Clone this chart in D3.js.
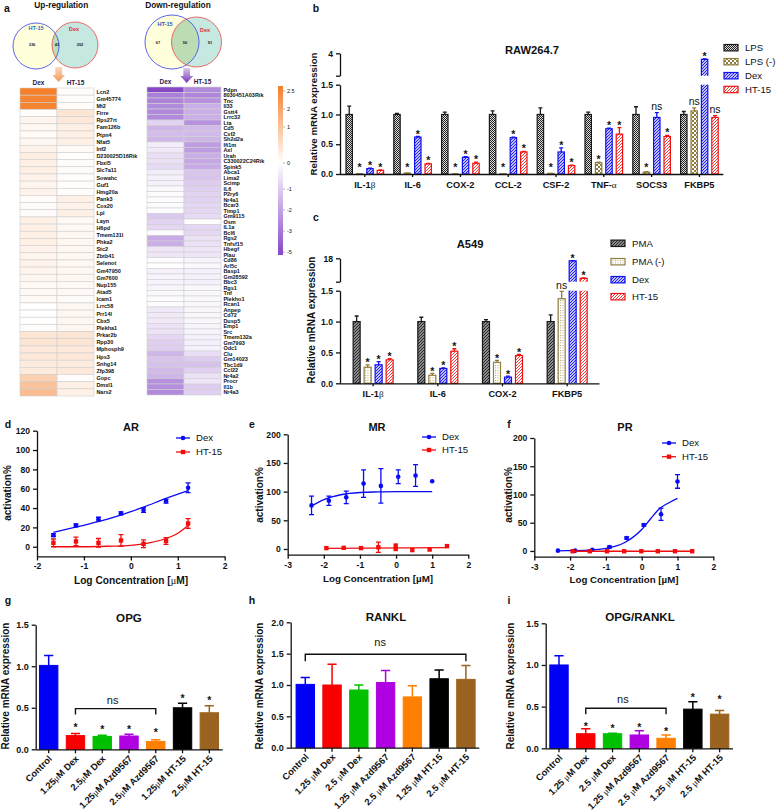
<!DOCTYPE html>
<html><head><meta charset="utf-8">
<script src="https://cdn.jsdelivr.net/npm/d3@7"></script>
<style>
html,body{margin:0;padding:0;background:#fff}
svg{display:block;font-family:"Liberation Sans",Arial,sans-serif}
text{fill:#111}
.axis text{font-weight:bold;font-size:8.6px;fill:#111}
.axis path,.axis line{stroke:#111;stroke-width:1.3}
</style></head><body>
<svg id="c" width="778" height="812"></svg>
<script>
// ---- panel a data ----
const upGenes=["Lcn2","Gm45774","Mt2","Firre","Rps27rt","Fam126b","Ptpn4","Nfat5","Inf2","D230025D16Rik","Fbxl5","Slc7a11","Sowahc","Guf1","Hmg20a","Pank3","Cox20","Lpl","Layn","H6pd","Tmem131l","Phka2","Stc2","Zbtb41","Selenot","Gm47950","Gm7600","Nup155","Atad5","Icam1","Lrrc58","Prr14l","Cbx5","Plekha1","Prkar2b","Rpp30","Mphosph9","Hps3","Snhg14","Zfp398","Gopc","Dmxl1","Nars2"];
const upDex=[2.5,2.4,2.4,.02,.2,.15,.1,.15,.25,.35,.3,.3,.25,.2,.25,.05,.08,.05,.3,.3,.3,.3,.25,.2,.25,.2,.2,.12,.12,.1,0,0,.02,.03,.5,.5,.45,.45,.4,.4,.9,1.2,1.3];
const upHT=[.05,.05,.06,.5,.45,.3,.3,.3,.1,.06,.08,.06,.03,.02,.04,.3,.25,.3,.1,.12,.15,.15,.15,.15,.15,.15,.15,.12,.12,.08,.15,.15,.15,.18,.5,.5,.45,.45,.4,.45,.05,.3,.3];
const downGenes=["Pdpn","8030451A03Rik","Tnc","Il33","Gstt4","Lrrc32","Lta","Cd5","Csf2","Sh2d2a","Ifi1m","Axl","Urah","C330022C24Rik","Spink5","Abca1","Lima2","Scimp","IL6","P2ry6","Nr4a1","Bcar3","Timp1","Gm9115","Osm","IL1a","Bcl6","Rgs2","Tnfsf15","Hbegf","Plau","Cd86","Arl5c","Basp1","Gm28592","Bbc3","Rgs1","Tnf","Plekho1","Rcan1","Anpep","Cd72","Dusp5","Emp1","Src","Tmem132a","Gm7993","Odc1","Clu","Gm14023","Tbc1d9","Ccl22","Nr4a2","Procr","Il1b","Nr4a3"];
const downDex=[-5,-3.5,-3.4,-3.2,-3.2,-3.2,-1.2,-2,-1.8,-2,-.5,-.6,-.9,-.8,-1,-.5,-.4,-.4,-.2,-.1,-.1,-.15,-.08,-1.5,-1.2,-1.1,-.1,-2.3,-2.2,-.7,-.7,-.1,0,-.4,-.3,-.35,-.3,-.2,-.1,-.1,-.6,-.6,-.6,-.8,-.8,-1.1,-1.3,-1.3,-2,-1.6,-1.7,-1.9,-2,-3,-3.1,-3.2];
const downHT=[-3.2,-3.3,-3,-2.2,-2.2,-2.2,-3,-1.9,-1.9,-2,-2.7,-2.7,-2.2,-2.4,-2.3,-1.6,-1.6,-1.4,-1.3,-1.2,-1.2,-1.1,-1.1,-1,-.05,-1.1,-1.1,-.8,-.8,-.7,-.7,-.3,-.2,-.4,-.4,-.4,-.2,-.2,-.2,-.2,-.25,-.25,-.25,-.3,-.3,-.4,-.4,-.4,-.9,-1.4,-1.7,-1.3,-.8,-.7,-1.4,-1.3];
const colorTicks=[2.5,2,1,0,-1,-2,-3,-5];
const colorTickLabels=["2.5","2","1","0","-1","-2","-3","-5"];
// ---- panel b data ----
const rawCats=["IL-1β","IL-6","COX-2","CCL-2","CSF-2","TNF-α","SOCS3","FKBP5"];
const rawSeries=["LPS","LPS (-)","Dex","HT-15"];
const rawLPS=[1,1,1,1,1,1,1,1];
const rawLPSerr=[1.14,1.02,1.04,1.06,1.11,1.04,1.13,1.05];
const rawNeg=[.005,.015,.003,.005,.01,.19,.03,1.06];
const rawNegErr=[.005,.015,.003,.005,.01,.2,.04,1.11];
const rawDex=[.09,.62,.28,.61,.37,.76,.95,3.45];
const rawDexErr=[.1,.63,.29,.62,.44,.77,1.03,3.5];
const rawHT=[.06,.17,.18,.37,.14,.67,.63,.95];
const rawHTerr=[.07,.18,.2,.38,.15,.78,.65,.98];
const rawMarks=[["","","","","","","",""],["*","*","*","*","*","*","*","ns"],["*","*","*","*","*","*","ns","*"],["*","*","*","*","*","*","*","ns"]];
// ---- panel c data ----
const aCats=["IL-1β","IL-6","COX-2","FKBP5"];
const aSeries=["PMA","PMA (-)","Dex","HT-15"];
const aPMA=[1,1,1,1];
const aPMAerr=[1.09,1.07,1.03,1.11];
const aNeg=[.26,.13,.34,1.37];
const aNegErr=[.3,.16,.37,1.49];
const aDex=[.3,.24,.1,16.2];
const aDexErr=[.35,.25,.115,16.4];
const aHT=[.38,.52,.45,4.3];
const aHTerr=[.4,.56,.47,4.6];
const aMarks=[["","","",""],["*","*","*","ns"],["*","*","*","*"],["*","*","*","*"]];
// ---- panels d-f data ----
const arX=[-1.65,-1.17,-.69,-.21,.27,.75,1.22];
const arDex=[12,22,28.5,34.5,38,47,61];
const arDexErr=[1.5,1.5,2,1.5,2.5,2,5];
const arHT=[4,5.5,4,6.5,3,6,24];
const arHTerr=[4,4.5,4.5,6,4,3.5,5];
const arDexFitX=[-1.65,-1.2,-.7,-.2,.27,.75,1.22];
const arDexFit=[15,20,26,33,41,50,58];
const arHTfitX=[-1.65,-1,-.5,0,.27,.75,1,1.22];
const arHTfit=[0,0,.5,1.5,3,8.5,14,22];
const mrDexX=[-2.34,-1.86,-1.38,-.9,-.42,.06,.54,1];
const mrDex=[76,84,90,114,110,126,128,118];
const mrDexErr=[16,8,11,24,30,12,19,0];
const mrHTx=[-1.93,-1.45,-.97,-.49,-.01,-.01,.45,.93,1.41];
const mrHT=[1.5,2,1.5,3,6,0,-2,-1,5];
const mrHTerr=[0,0,0,9,0,0,0,0,0];
const mrDexFitX=[-2.34,-2,-1.5,-1,-.5,0,.5,1];
const mrDexFit=[75,86,95,98.5,99.5,100,100,100];
const mrHTfitX=[-1.93,1.41];
const mrHTfit=[1,2.5];
const prDexX=[-2.34,-1.86,-1.38,-.9,-.42,.06,.54,1];
const prDex=[.5,.5,2,7,23,46,65,123];
const prDexErr=[0,0,0,1.5,2,2,11,12];
const prHTx=[-1.93,-1.45,-.97,-.49,-.01,.45,.93,1.41];
const prHT=[-.5,-.5,-.5,-.5,-.5,-.5,-.5,-.5];
const prHTerr=[0,0,0,0,0,0,0,0];
const prDexFitX=[-2.34,-2,-1.5,-1,-.5,0,.25,.5,.75,1];
const prDexFit=[.3,.6,1.5,4.5,14,38,57,75,85,93];
const prHTfitX=[-1.93,1.41];
const prHTfit=[-.5,-.5];
// ---- panels g-i data ----
const treatG=["Control","1.25μM Dex","2.5μM Dex","1.25μM Azd9567","2.5μM Azd9567","1.25μM HT-15","2.5μM HT-15"];
const treatH=["Control","1.25 μM Dex","2.5 μM Dex","1.25 μM Azd9567","2.5 μM Azd9567","1.25 μM HT-15","2.5 μM HT-15"];
const treatColors=["#0000f5","#f80000","#00c000","#ae00e0","#ff8000","#000000","#9a6420"];
const opg=[1.01,.165,.155,.16,.095,.5,.44];
const opgErr=[1.13,.19,.17,.18,.115,.555,.525];
const opgStars=[null,.292,.264,.272,.228,.64,.62];
const rankl=[1.01,1,.92,1.04,.81,1.1,1.09];
const ranklErr=[1.12,1.33,1,1.23,.99,1.24,1.31];
const ratio=[1,.175,.175,.16,.12,.47,.41];
const ratioErr=[1.11,.235,.18,.21,.16,.56,.455];
const ratioStars=[null,.288,.268,.276,.228,.64,.616];

const svg=d3.select("#c");
const defs=svg.append("defs");
function pat(id,w,h,bg,draw){
  const p=defs.append("pattern").attr("id",id).attr("patternUnits","userSpaceOnUse").attr("width",w).attr("height",h);
  p.append("rect").attr("width",w).attr("height",h).attr("fill",bg);
  draw(p);
}
const diag=(c,sw)=>p=>p.append("path").attr("d","M-1,1L1,-1M0,3L3,0M2,4L4,2").attr("stroke",c).attr("stroke-width",sw);
pat("pLPS",2,2,"#ddd",p=>{p.append("rect").attr("width",1).attr("height",1).attr("fill","#222");p.append("rect").attr("x",1).attr("y",1).attr("width",1).attr("height",1).attr("fill","#222");});
pat("pNeg",4,4,"#fff",p=>{p.append("rect").attr("width",2).attr("height",2).attr("fill","#8f7d3e");p.append("rect").attr("x",2).attr("y",2).attr("width",2).attr("height",2).attr("fill","#8f7d3e");});
pat("pDex",3,3,"#fff",diag("#1818f0",1.1));
pat("pHT",3,3,"#fff",diag("#f02828",.9));
pat("pPMA",3,3,"#bbb",p=>{p.append("path").attr("d","M-1,1L1,-1M0,3L3,0M2,4L4,2").attr("stroke","#222").attr("stroke-width",1.2);});
pat("pNegC",2.5,2.5,"#fff",p=>p.append("rect").attr("width",.9).attr("height",.9).attr("fill","#a89560"));
const rawPal=[{f:"url(#pLPS)",s:"#1a1a1a"},{f:"url(#pNeg)",s:"#8f7d3e"},{f:"url(#pDex)",s:"#1010f0"},{f:"url(#pHT)",s:"#f01010"}];
const aPal=[{f:"url(#pPMA)",s:"#1a1a1a"},{f:"url(#pNegC)",s:"#8f7d3e"},{f:"url(#pDex)",s:"#1010f0"},{f:"url(#pHT)",s:"#f01010"}];

function rich(t,str){ // Greek glyphs drawn in a serif face like the reference
  t.text(null);
  str.split(/([βαμ])/).filter(s=>s).forEach(s=>{
    const sp=t.append("tspan").text(s);
    if(/[βαμ]/.test(s)) sp.attr("font-family","Liberation Serif").attr("font-weight","normal");
  });
}
function label(x,y,s,o={}){
  const t=svg.append("text").attr("x",x).attr("y",y).attr("text-anchor",o.a||"middle")
    .attr("font-size",o.fs||10).attr("font-weight",o.w||"bold").text(s);
  if(o.c)t.style("fill",o.c);
  return t;
}
function vlabel(x,y,s,fs){
  svg.append("text").attr("transform",`translate(${x},${y}) rotate(-90)`).attr("text-anchor","middle")
   .attr("font-size",fs).attr("font-weight","bold").text(s);
}
function star(x,y,fs=11){label(x,y+fs*.58,"*",{fs});}

// panel letters
[["a",7,12],["b",316,12],["c",316,221],["d",8,428],["e",252,428],["f",509,428],["g",8,604],["h",252,604],["i",509,604]]
 .forEach(d=>label(d[1],d[2],d[0],{fs:10.5}));

// ---- Panel a ----
const heatColor=d3.scaleLinear().domain([-5,0,2.5]).range(["#8748c8","#ffffff","#f57f2a"]);
function venn(lx,ly,lr,rx,ry,rr,clip,lab){
  const g=svg.append("g");
  g.append("circle").attr("cx",lx).attr("cy",ly).attr("r",lr).attr("fill","#ffffdc");
  g.append("circle").attr("cx",rx).attr("cy",ry).attr("r",rr).attr("fill","#c5e9e1");
  defs.append("clipPath").attr("id",clip).append("circle").attr("cx",lx).attr("cy",ly).attr("r",lr);
  g.append("circle").attr("cx",rx).attr("cy",ry).attr("r",rr).attr("fill","#bcdcb4").attr("clip-path",`url(#${clip})`);
  g.append("circle").attr("cx",lx).attr("cy",ly).attr("r",lr).attr("fill","none").attr("stroke","#4a55e8").attr("stroke-width",.9);
  g.append("circle").attr("cx",rx).attr("cy",ry).attr("r",rr).attr("fill","none").attr("stroke","#e85a5a").attr("stroke-width",.9);
  lab.forEach(d=>label(d[0],d[1],d[2],{fs:d[3],c:d[4]}));
}
venn(36,46,23,75,45,23,"cv1",[[36,30,"HT-15",5.6,"#2a6fb8"],[74,31,"Dex",5.6,"#e03040"],[32,46,"336",4,"#222"],[57,46,"43",4,"#222"],[80,46,"202",4,"#222"]]);
venn(172,42,27,196.5,42,25,"cv2",[[165,26,"HT-15",5.6,"#2a55b8"],[205,32,"Dex",5.6,"#e03040"],[158,44,"67",4,"#222"],[185,44,"56",4,"#222"],[210,44,"91",4,"#222"]]);
label(61.3,8,"Up-regulation",{fs:8.3});
label(178,8,"Down-regulation",{fs:8.3});
function arrow(x,y,id,c1,c2){
  const gr=defs.append("linearGradient").attr("id",id).attr("x1",0).attr("y1",0).attr("x2",0).attr("y2",1);
  gr.append("stop").attr("offset",0).attr("stop-color",c1);
  gr.append("stop").attr("offset",1).attr("stop-color",c2);
  svg.append("path").attr("d",`M${x-3.4},${y}h6.8v8h3l-6.4,7l-6.4,-7h3z`).attr("fill",`url(#${id})`);
}
arrow(58.7,67,"ga1","#fbd8bc","#f39a58");
arrow(186.7,68,"ga2","#d8c8ea","#7a35b8");
function heat(x0,top,bottom,genes,a,b,colW){
  const xs=d3.scaleBand().domain(["Dex","HT-15"]).range([x0,x0+2*colW]);
  const ys=d3.scaleBand().domain(genes).range([top,bottom]);
  const g=svg.append("g");
  [["Dex",a],["HT-15",b]].forEach(([k,v])=>{
    g.selectAll(null).data(genes).enter().append("rect")
     .attr("x",xs(k)).attr("width",xs.bandwidth()).attr("y",d=>ys(d)).attr("height",ys.bandwidth())
     .attr("fill",(d,i)=>heatColor(v[i])).attr("stroke","#cfcfcf").attr("stroke-width",.6);
    label(xs(k)+xs.bandwidth()/2,top-3,k,{fs:6.5,c:"#2a1a50"});
  });
  g.selectAll(null).data(genes).enter().append("text").attr("x",x0+2*colW+2.4).attr("y",d=>ys(d)+ys.bandwidth()/2+2)
   .attr("font-size",5.5).attr("font-weight","bold").text(d=>d);
}
heat(20,88,396,upGenes,upDex,upHT,37);
heat(147,87,395,downGenes,downDex,downHT,37);
// colour bar
const cbY=d3.scaleLinear().domain(colorTicks).range([91,109,127,163,189,210,231,252]);
const cbTop=cbY(2.5)-5, cbBot=cbY(-5)+3;
const gradC=defs.append("linearGradient").attr("id","cb").attr("x1",0).attr("y1",0).attr("x2",0).attr("y2",1);
[[2.5,cbTop],[0,cbY(0)],[-5,cbBot]].forEach(([v,y])=>gradC.append("stop").attr("offset",(y-cbTop)/(cbBot-cbTop)).attr("stop-color",heatColor(v)));
svg.append("rect").attr("x",278).attr("y",cbTop).attr("width",5).attr("height",cbBot-cbTop).attr("fill","url(#cb)");
colorTicks.forEach((v,i)=>{
  svg.append("line").attr("x1",283).attr("x2",285).attr("y1",cbY(v)).attr("y2",cbY(v)).attr("stroke","#666").attr("stroke-width",.5);
  label(287,cbY(v)+2,colorTickLabels[i],{fs:5.5,a:"start",w:"normal"});
});

// ---- Panels b, c ----
function groupedBars(o){
  const x=d3.scaleBand().domain(o.cats).range(o.xr);
  const ix=d3.scaleBand().domain(o.series).range([-o.step*2,o.step*2]);
  const yL=d3.scaleLinear().domain([0,1.5]).range([o.y0,o.y15]);
  const yU=d3.scaleLinear().domain(o.upDom).range([o.yB,o.yT]);
  const yOf=v=>v>1.5?yU(v):yL(v);
  o.vals.forEach((vals,si)=>{
    const s=o.series[si], pal=o.pal[si];
    vals.forEach((v,ci)=>{
      const cx=x(o.cats[ci])+x.bandwidth()/2+ix(s)+ix.bandwidth()/2;
      const left=cx-o.bw/2;
      const top=Math.min(yL(v),yL(0));
      if(v>1.5){
        svg.append("rect").attr("x",left).attr("y",o.y15).attr("width",o.bw).attr("height",o.y0-o.y15).attr("fill",pal.f);
        svg.append("path").attr("d",`M${left},${o.y15}V${o.y0}M${left+o.bw},${o.y15}V${o.y0}`).attr("stroke",pal.s).attr("stroke-width",1.2).attr("fill","none");
        svg.append("rect").attr("x",left).attr("y",yU(v)).attr("width",o.bw).attr("height",o.yB-yU(v)).attr("fill",pal.f);
        svg.append("path").attr("d",`M${left},${o.yB}V${yU(v)}H${left+o.bw}V${o.yB}`).attr("stroke",pal.s).attr("stroke-width",1.2).attr("fill","none");
      }else{
        svg.append("rect").attr("x",left).attr("y",top).attr("width",o.bw).attr("height",o.y0-top).attr("fill",pal.f).attr("stroke",pal.s).attr("stroke-width",1.2);
      }
      const e=o.errs[si][ci], ey=yOf(e), by=yOf(v);
      svg.append("path").attr("d",`M${cx},${by}V${ey}M${cx-2},${ey}H${cx+2}`).attr("stroke",pal.s).attr("stroke-width",1.3).attr("fill","none");
      const m=o.marks[si][ci];
      if(m==="*") star(cx,Math.min(ey,o.y0-4)-o.gap,10.5);
      else if(m==="ns"){
        const ny=o.nsAt?o.nsAt:ey-6;
        label(cx,ny+3,"ns",{fs:10.5,w:o.nsW||"normal"});
      }
    });
  });
  // axes
  const ga=svg.append("g").attr("class","axis").attr("transform",`translate(${o.ax},0)`);
  ga.call(d3.axisLeft(yL).tickValues([0,.5,1,1.5]).tickFormat(d3.format(".1f")).tickSize(4).tickSizeOuter(0));
  const gu=svg.append("g").attr("class","axis").attr("transform",`translate(${o.ax},0)`);
  gu.call(d3.axisLeft(yU).tickValues([o.upDom[0],o.upDom[1]]).tickFormat(d=>d===o.upDom[1]?d:"").tickSize(4).tickSizeOuter(0));
  const gx=svg.append("g").attr("class","axis").attr("transform",`translate(0,${o.y0})`);
  gx.call(d3.axisBottom(x).tickSize(3).tickSizeOuter(0));
  gx.select(".domain").attr("d",`M${o.ax},0.5H${o.xr[1]}`);
  gx.selectAll("text").attr("dy",null).attr("y",14).style("font-size","9.2px").each(function(d){rich(d3.select(this),d);});
  label(o.tx,o.ty,o.title,{fs:11.2});
  vlabel(o.ylx,o.yly,"Relative mRNA expression",o.ylfs);
  o.series.forEach((s,i)=>{
    const y=o.legY[i];
    svg.append("rect").attr("x",o.legX).attr("y",y-3.2).attr("width",14).attr("height",6.4).attr("fill",o.pal[i].f).attr("stroke",o.pal[i].s).attr("stroke-width",1.2);
    label(o.legX+21,y+3.4,s,{fs:9.6,a:"start",w:"normal"});
  });
}
groupedBars({cats:rawCats,series:rawSeries,vals:[rawLPS,rawNeg,rawDex,rawHT],errs:[rawLPSerr,rawNegErr,rawDexErr,rawHTerr],marks:rawMarks,pal:rawPal,
  xr:[340.9,723.3],step:10.4,bw:6.4,ax:340,y0:174,y15:84.7,yB:75.7,yT:53.3,upDom:[2,4],gap:5,nsW:"normal",
  tx:532,ty:54,title:"RAW264.7",ylx:317,yly:114,ylfs:9.7,legX:724,legY:[47.7,61.7,75.7,89.5]});
groupedBars({cats:aCats,series:aSeries,vals:[aPMA,aNeg,aDex,aHT],errs:[aPMAerr,aNegErr,aDexErr,aHTerr],marks:aMarks,pal:aPal,
  xr:[340.8,599.5],step:11,bw:7,ax:340,y0:383.3,y15:290.7,yB:281.7,yT:258.3,upDom:[2,18],gap:4.5,nsAt:286,
  tx:470,ty:247.5,title:"A549",ylx:314.5,yly:320,ylfs:10,legX:611,legY:[243.3,261.7,279.7,296.7]});

// ---- Panels d, e, f ----
function dose(o){
  const x=d3.scaleLinear().domain(o.xd).range(o.xr);
  const y=d3.scaleLinear().domain(o.yd).range(o.yr);
  const ln=d3.line().x(d=>x(d[0])).y(d=>y(d[1])).curve(d3.curveMonotoneX);
  const BL="#0a0af5",RD="#f20d0d";
  function ser(px,py,pe,fx,fy,c,sq){
    svg.append("path").attr("d",ln(fx.map((v,i)=>[v,fy[i]]))).attr("fill","none").attr("stroke",c).attr("stroke-width",1.3);
    px.forEach((v,i)=>{
      const cx=x(v),cy=y(py[i]);
      if(pe[i]>0){
        const a=y(py[i]-pe[i]),b=y(py[i]+pe[i]);
        svg.append("path").attr("d",`M${cx},${a}V${b}M${cx-2.5},${a}h5M${cx-2.5},${b}h5`).attr("stroke",c).attr("stroke-width",1.3);
      }
      if(sq) svg.append("rect").attr("x",cx-2.2).attr("y",cy-2.2).attr("width",4.4).attr("height",4.4).attr("fill",c);
      else svg.append("circle").attr("cx",cx).attr("cy",cy).attr("r",2.3).attr("fill",c);
    });
  }
  ser(o.dx,o.dy,o.de,o.dfx,o.dfy,BL,false);
  ser(o.hx,o.hy,o.he,o.hfx,o.hfy,RD,true);
  const gy=svg.append("g").attr("class","axis").attr("transform",`translate(${o.xr[0]},0)`);
  gy.call(d3.axisLeft(y).tickValues(o.yt).tickSize(4).tickSizeOuter(0));
  const gx=svg.append("g").attr("class","axis").attr("transform",`translate(0,${o.yr[0]})`);
  gx.call(d3.axisBottom(x).tickValues(o.xt).tickFormat(d3.format("d")).tickSize(4).tickSizeOuter(0));
  gx.selectAll("text").text(d=>d<0?"-"+Math.abs(d):d);
  label(o.tx,431,o.title,{fs:11});
  rich(label(o.xlx,o.xly,"",{fs:o.xlfs}),o.xl);
  vlabel(o.ylx,o.yly,"activation%",10);
  [["Dex",BL,false,o.lg[0]],["HT-15",RD,true,o.lg[1]]].forEach(([s,c,sq,ly])=>{
    svg.append("line").attr("x1",o.lgx).attr("x2",o.lgx+14).attr("y1",ly).attr("y2",ly).attr("stroke",c).attr("stroke-width",1.3);
    if(sq) svg.append("rect").attr("x",o.lgx+4.8).attr("y",ly-2.2).attr("width",4.4).attr("height",4.4).attr("fill",c);
    else svg.append("circle").attr("cx",o.lgx+7).attr("cy",ly).attr("r",2.3).attr("fill",c);
    label(o.lgx+20,ly+3.3,s,{fs:9.6,a:"start",w:"normal"});
  });
}
dose({xd:[-2,2],xr:[37,224.7],yd:[-10,120],yr:[556.4,430.7],yt:[0,20,40,60,80,100,120],xt:[-2,-1,0,1,2],
  dx:arX,dy:arDex,de:arDexErr,dfx:arDexFitX,dfy:arDexFit,hx:arX,hy:arHT,he:arHTerr,hfx:arHTfitX,hfy:arHTfit,
  tx:131,title:"AR",xlx:131,xly:584,xlfs:10.2,xl:"Log Concentration [μM]",ylx:10.5,yly:493,lg:[438,452],lgx:176});
dose({xd:[-3,2],xr:[287.7,468.3],yd:[-10,200],yr:[554.7,434.3],yt:[0,50,100,150,200],xt:[-3,-2,-1,0,1,2],
  dx:mrDexX,dy:mrDex,de:mrDexErr,dfx:mrDexFitX,dfy:mrDexFit,hx:mrHTx,hy:mrHT,he:mrHTerr,hfx:mrHTfitX,hfy:mrHTfit,
  tx:377,title:"MR",xlx:378,xly:581.5,xlfs:9.8,xl:"Log Concentration [µM]",ylx:262.5,yly:495,lg:[437,450],lgx:422});
dose({xd:[-3,2],xr:[534.3,713.3],yd:[-10,200],yr:[556.6,438],yt:[0,50,100,150,200],xt:[-3,-2,-1,0,1,2],
  dx:prDexX,dy:prDex,de:prDexErr,dfx:prDexFitX,dfy:prDexFit,hx:prHTx,hy:prHT,he:prHTerr,hfx:prHTfitX,hfy:prHTfit,
  tx:625,title:"PR",xlx:624,xly:582.5,xlfs:9.7,xl:"Log Concentration [µM]",ylx:512,yly:495,lg:[443,456.7],lgx:662});

// ---- Panels g, h, i ----
function treat(o){
  const x=d3.scaleBand().domain(o.cats).range(o.xr);
  const y=d3.scaleLinear().domain([0,o.max]).range([o.y0,o.yT]);
  const bw=18.4;
  o.cats.forEach((c,i)=>{
    const cx=x(c)+x.bandwidth()/2, col=treatColors[i];
    svg.append("rect").attr("x",cx-bw/2).attr("y",y(o.v[i])).attr("width",bw).attr("height",o.y0-y(o.v[i])).attr("fill",col).attr("stroke",col).attr("stroke-width",1);
    const ey=y(o.e[i]);
    svg.append("path").attr("d",`M${cx},${y(o.v[i])}V${ey}M${cx-4.6},${ey}h9.2`).attr("stroke",col).attr("stroke-width",1.5).attr("fill","none");
    if(o.stars&&o.stars[i]!=null) star(cx,y(o.stars[i]),10.5);
  });
  const gy=svg.append("g").attr("class","axis").attr("transform",`translate(${o.ax},0)`);
  gy.call(d3.axisLeft(y).ticks(o.max/.5).tickFormat(d3.format(".1f")).tickSize(4).tickSizeOuter(0));
  gy.selectAll("text").style("font-size","9px");
  const gx=svg.append("g").attr("class","axis").attr("transform",`translate(0,${o.y0})`);
  gx.call(d3.axisBottom(x).tickSize(4).tickSizeOuter(0));
  gx.select(".domain").attr("d",`M${o.ax},0.5H${o.xr[1]}`);
  gx.selectAll("text").attr("dy",null).attr("y",0).attr("text-anchor","end")
    .attr("transform","translate(4,10) rotate(-45)").style("font-size","9.3px").each(function(d){rich(d3.select(this),d);});
  // bracket
  const bx=i=>x(o.cats[i])+x.bandwidth()/2;
  const by=y(o.br[2]);
  svg.append("path").attr("d",`M${bx(o.br[0])},${by+o.br[3]}V${by}H${bx(o.br[1])}V${by+o.br[3]}`).attr("fill","none").attr("stroke","#111").attr("stroke-width",1.4);
  label((bx(o.br[0])+bx(o.br[1]))/2+o.nsDx,by-o.nsDy,"ns",{fs:11,w:"normal"});
  label(o.tx,o.ty,o.title,{fs:11.6});
  vlabel(o.ylx,686,"Relative mRNA expression",10);
}
treat({cats:treatG,v:opg,e:opgErr,stars:opgStars,max:1.5,xr:[35.3,222.7],ax:35.7,y0:749.3,yT:624.7,br:[1,4,.49,6],nsDx:-3,nsDy:5,
  tx:129,ty:622,title:"OPG",ylx:8.5});
treat({cats:treatH,v:rankl,e:ranklErr,max:2,xr:[291.9,479.3],ax:290.7,y0:747.7,yT:622.3,br:[0,6,1.49,7],nsDx:-5.5,nsDy:8,
  tx:386,ty:620.5,title:"RANKL",ylx:263});
treat({cats:treatH,v:ratio,e:ratioErr,stars:ratioStars,max:1.5,xr:[545.6,733],ax:545.7,y0:748.3,yT:623.3,br:[1,4,.48,6],nsDx:-3,nsDy:5,
  tx:640,ty:620.5,title:"OPG/RANKL",ylx:513.5});
</script>
</body></html>
